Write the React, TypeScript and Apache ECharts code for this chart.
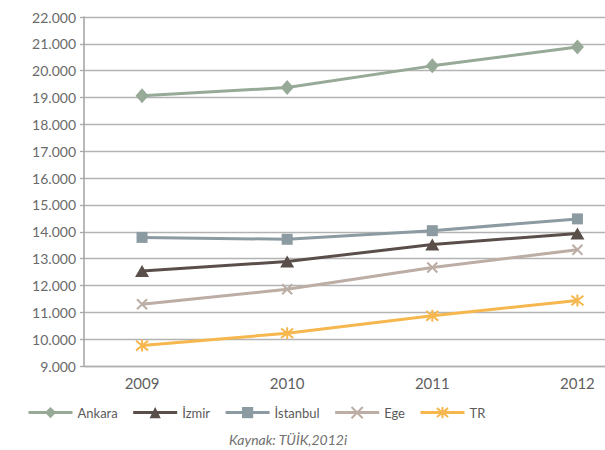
import React, { useEffect, useRef } from "react";
import * as echarts from "echarts";

const years = [2009, 2010, 2011, 2012];
const ankara = [19070, 19370, 20180, 20880];
const izmir = [12540, 12890, 13530, 13940];
const istanbul = [13790, 13720, 14040, 14480];
const ege = [11300, 11860, 12670, 13330];
const tr = [9760, 10220, 10870, 11440];

const yTicks = { min: 9000, max: 22000, interval: 1000 };
const sourceText = "Kaynak: TÜİK,2012i";

const FONT = "Lato, 'Open Sans', sans-serif";
const X_SYMBOL = "path://M0,0 L10,10 M10,0 L0,10";
const STAR_SYMBOL = "path://M1,1 L9,9 M9,1 L1,9 M5,0 L5,10";

function mk(name: string, vals: number[], color: string, symbol: string, size: any, stroke = false) {
  return {
    name,
    type: "line",
    data: years.map((y, i) => [y, vals[i]]),
    symbol,
    symbolSize: size,
    showSymbol: true,
    lineStyle: { color, width: 3 },
    itemStyle: stroke
      ? { color: "rgba(0,0,0,0)", borderColor: color, borderWidth: 2 }
      : { color, borderWidth: 0 },
    emphasis: { disabled: true },
  };
}

export default function App() {
  const ref = useRef<HTMLDivElement>(null);
  useEffect(() => {
    if (!ref.current) return;
    const chart = echarts.init(ref.current, undefined, { renderer: "svg" });
    chart.setOption({
      animation: false,
      backgroundColor: "#ffffff",
      textStyle: { fontFamily: FONT },
      grid: { left: 84, right: 0, top: 17, bottom: 84, containLabel: false },
      xAxis: {
        type: "value",
        min: 2008.6,
        max: 2012.19,
        axisLine: { show: true, lineStyle: { color: "#b0b0b0", width: 1.3 } },
        axisTick: { show: false },
        splitLine: { show: false },
        axisLabel: {
          customValues: years,
          formatter: (v: number) => String(v),
          color: "#5f5f5f",
          fontSize: 15,
          fontFamily: FONT,
          margin: 9,
        },
      },
      yAxis: {
        type: "value",
        min: yTicks.min,
        max: yTicks.max,
        interval: yTicks.interval,
        axisLine: { show: true, lineStyle: { color: "#a8a8a8", width: 1.6 } },
        axisTick: { show: true, length: 4, lineStyle: { color: "#a8a8a8", width: 1.3 } },
        splitLine: { show: true, lineStyle: { color: "#b3b3b3", width: 1.3 } },
        axisLabel: {
          formatter: (v: number) => (v / 1000).toFixed(3),
          color: "#6a6a6a",
          fontSize: 14,
          fontFamily: FONT,
          margin: 8,
        },
      },
      legend: {
        left: 22,
        top: 401,
        itemWidth: 44,
        itemHeight: 14,
        itemGap: 14,
        lineStyle: { width: 3 },
        textStyle: { color: "#5a5a5a", fontSize: 13, fontFamily: FONT },
        data: ["Ankara", "İzmir", "İstanbul", "Ege", "TR"],
      },
      title: {
        text: sourceText,
        left: 229,
        top: 432,
        padding: 0,
        textStyle: {
          fontStyle: "italic",
          fontWeight: "normal",
          fontSize: 14,
          color: "#707070",
          fontFamily: FONT,
        },
      },
      series: [
        mk("Ankara", ankara, "#97a997", "diamond", [13, 15]),
        mk("İzmir", izmir, "#5a4e4a", "triangle", [14, 12]),
        mk("İstanbul", istanbul, "#8c9aa2", "rect", [11, 11]),
        mk("Ege", ege, "#bcada5", X_SYMBOL, 10, true),
        mk("TR", tr, "#f6b74e", STAR_SYMBOL, 12, true),
      ],
    });
    return () => chart.dispose();
  }, []);
  return (
    <div
      ref={ref}
      style={{ position: "absolute", left: 0, top: 0, width: 605, height: 450 }}
    />
  );
}
